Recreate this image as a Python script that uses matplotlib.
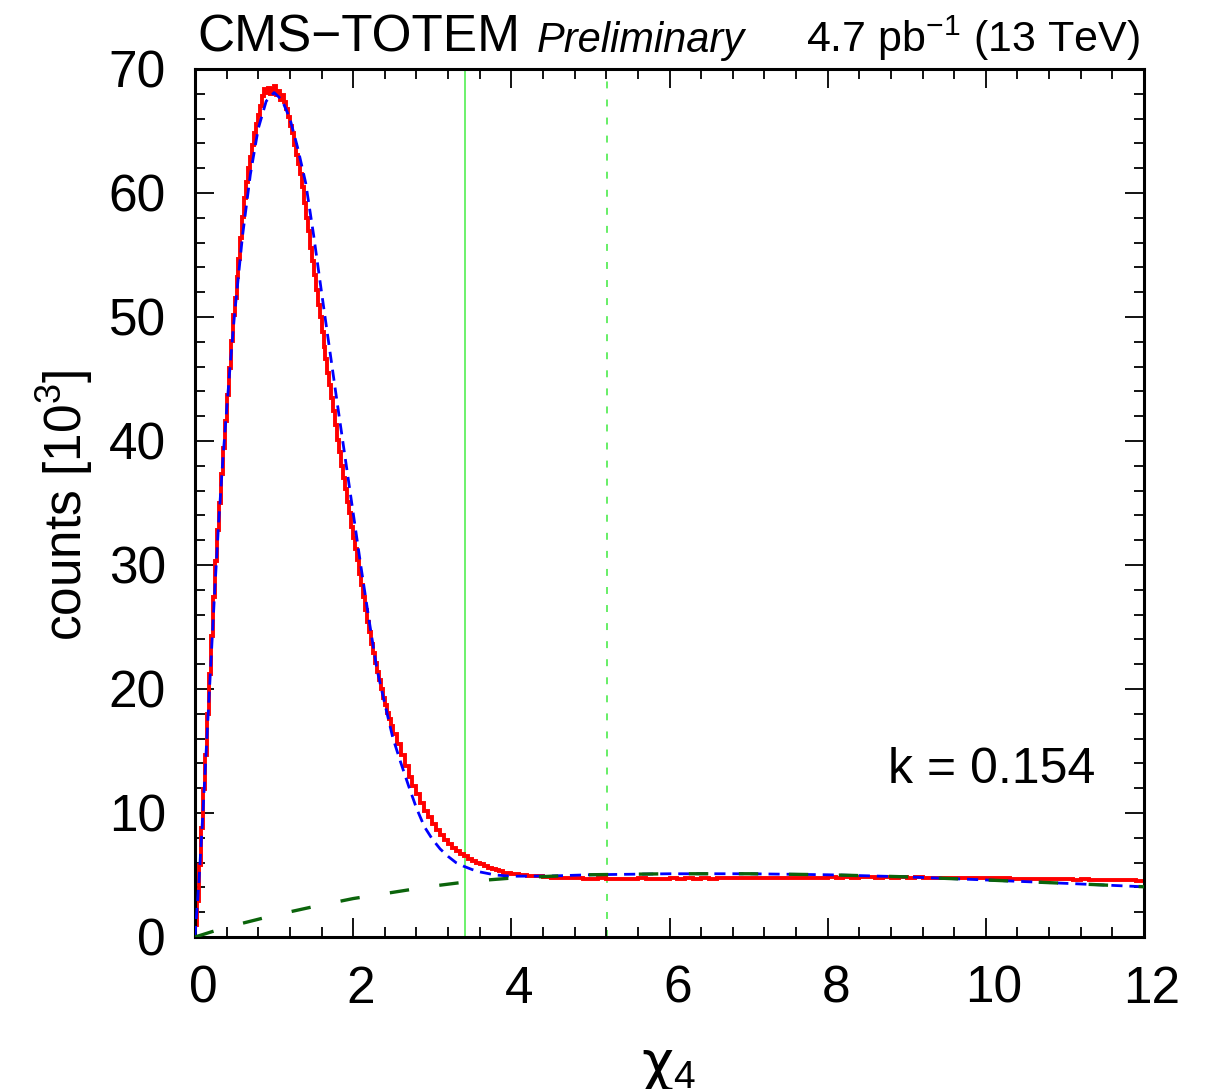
import numpy as np
import matplotlib
matplotlib.use('Agg')
from matplotlib import pyplot as plt
from matplotlib import transforms
from matplotlib.ticker import MultipleLocator

plt.rcParams['font.family'] = ['Liberation Sans', 'DejaVu Sans']
plt.rcParams['mathtext.fontset'] = 'custom'
plt.rcParams['mathtext.rm'] = 'Liberation Sans'
plt.rcParams['mathtext.it'] = 'Liberation Sans:italic'
plt.rcParams['mathtext.bf'] = 'Liberation Sans:bold'
plt.rcParams['lines.scale_dashes'] = False

# measured chi_4 distribution (counts / 1000)
# 0.025 wide bins from 0 to 2.5
hist_peak = [
    1.0, 2.9, 5.8, 8.8, 11.9, 14.7, 18.0, 21.2, 24.3, 27.4,
    30.3, 32.8, 35.0, 37.3, 39.4, 41.6, 43.7, 45.9, 48.1, 50.2,
    51.5, 53.2, 54.7, 56.4, 58.1, 59.6, 60.9, 62.0, 62.9, 63.9,
    64.8, 65.6, 66.3, 67.0, 67.8, 68.4, 68.1, 68.5, 68.0, 68.4,
    68.6, 67.9, 68.2, 67.5, 67.9, 67.3, 66.8, 66.1, 65.4, 64.8,
    63.9, 63.1, 62.3, 61.5, 60.5, 59.2, 58.0, 56.9, 55.6, 54.5,
    53.4, 52.2, 51.0, 50.0, 48.8, 47.6, 46.6, 45.5, 44.5, 43.5,
    42.4, 41.3, 40.1, 39.1, 38.0, 37.0, 36.1, 35.1, 34.2, 33.1,
    32.2, 31.3, 30.4, 29.3, 28.4, 27.4, 26.4, 25.4, 24.6, 23.6,
    22.9, 22.1, 21.4, 20.7, 20.0, 19.3, 18.7, 18.1, 17.6, 17.0,
]
# 0.05 wide bins from 2.5 to 4
hist_fall = [
    16.4, 15.6, 14.7, 13.8, 12.9, 12.2, 11.5, 10.8, 10.2, 9.7,
    9.1, 8.6, 8.2, 7.8, 7.5, 7.2, 6.9, 6.7, 6.5, 6.3,
    6.1, 6.0, 5.85, 5.7, 5.6, 5.5, 5.4, 5.3, 5.2, 5.15,
]
# 0.1 wide bins from 4 to 12
hist_tail = [
    5.05, 4.98, 4.92, 4.88, 4.83, 4.79, 4.76, 4.74, 4.72, 4.71,
    4.70, 4.72, 4.68, 4.71, 4.69, 4.70, 4.73, 4.68, 4.70, 4.71,
    4.72, 4.70, 4.73, 4.71, 4.74, 4.70, 4.72, 4.75, 4.72, 4.73,
    4.74, 4.76, 4.73, 4.75, 4.77, 4.74, 4.76, 4.78, 4.76, 4.79,
    4.80, 4.78, 4.81, 4.79, 4.82, 4.80, 4.78, 4.81, 4.79, 4.80,
    4.78, 4.80, 4.77, 4.79, 4.76, 4.78, 4.75, 4.77, 4.74, 4.75,
    4.73, 4.72, 4.74, 4.70, 4.71, 4.68, 4.70, 4.67, 4.66, 4.65,
    4.66, 4.63, 4.64, 4.61, 4.62, 4.59, 4.60, 4.57, 4.58, 4.55,
]

# full fit (signal + background)
fit_x = [0, 0.05, 0.1, 0.15, 0.2, 0.25, 0.3, 0.35, 0.4, 0.45, 0.5, 0.6, 0.7,
         0.8, 0.9, 1.0, 1.1, 1.2, 1.3, 1.4, 1.5, 1.6, 1.7, 1.8, 1.9, 2.0,
         2.1, 2.2, 2.3, 2.4, 2.5, 2.6, 2.7, 2.8, 2.9, 3.0, 3.1, 3.2, 3.3,
         3.4, 3.5, 3.6, 3.8, 4.0, 4.5, 5, 6, 7, 8, 9, 10, 11, 12]
fit_y = [0, 4.5, 10, 16, 22, 28, 33.5, 38.3, 42.5, 46.5, 50.2, 56.5, 61.5,
         65.2, 67.4, 68.1, 67.5, 66.0, 63.6, 60.8, 56.6, 52.0, 47.5, 43.0, 38.6, 34.2,
         29.8, 25.6, 21.6, 18.8, 16.1, 14.1, 12.2, 10.4, 8.9, 7.9, 7.1, 6.5, 6.0,
         5.7, 5.45, 5.25, 5.0, 4.9, 4.92, 5.02, 5.1, 5.1, 5.02, 4.85, 4.6, 4.33, 4.05]

# background component
bkg_x = [0, 0.25, 0.5, 1, 1.5, 2, 2.5, 3, 3.5, 4, 4.5, 5, 6, 7, 8, 9, 10, 11, 12]
bkg_y = [0, 0.5, 0.95, 1.75, 2.45, 3.1, 3.6, 4.1, 4.5, 4.75, 4.9, 5.02, 5.1, 5.1,
         5.02, 4.85, 4.6, 4.33, 4.05]

cut_solid = 3.41
cut_dashed = 5.21

edges = np.concatenate([np.linspace(0, 2.5, 101)[:-1],
                        np.linspace(2.5, 4, 31)[:-1],
                        np.linspace(4, 12, 81)])
counts = np.array(hist_peak + hist_fall + hist_tail)

fig = plt.figure(figsize=(12.07, 10.89), dpi=100)
ax = fig.add_axes([195 / 1207, 1 - 937 / 1089, (1144 - 195) / 1207, (937 - 69) / 1089])

ax.axvline(cut_solid, color='#44ee44', lw=1.1, zorder=1)
ax.axvline(cut_dashed, color='#66ee66', lw=1.4, dashes=(5, 8), zorder=1)

ax.stairs(counts, edges, baseline=None, color='#ff0000', lw=2.8, zorder=2)
ax.plot(fit_x, fit_y, color='#0000ff', lw=2.0, dashes=(8, 5), zorder=3)
ax.plot(bkg_x, bkg_y, color='#0b640b', lw=2.4, dashes=(14, 22), zorder=4)

ax.set_xlim(0, 12)
ax.set_ylim(0, 70)
ax.xaxis.set_major_locator(MultipleLocator(2))
ax.xaxis.set_minor_locator(MultipleLocator(0.4))
ax.yaxis.set_major_locator(MultipleLocator(10))
ax.yaxis.set_minor_locator(MultipleLocator(2))
ax.tick_params(which='both', direction='in', top=True, right=True, width=1.3, colors='black')
ax.tick_params(which='major', length=14)
ax.tick_params(which='minor', length=7)
ax.tick_params(axis='x', which='major', labelsize=37, pad=20)
ax.tick_params(axis='y', which='major', labelsize=37, pad=21)
for s in ax.spines.values():
    s.set_linewidth(2.2)

# ROOT style: x labels sit a bit to the right of the ticks
shift = transforms.ScaledTranslation(8 / 100, 0, fig.dpi_scale_trans)
for lab in ax.get_xticklabels():
    lab.set_transform(lab.get_transform() + shift)

fig.text(65 / 1207, 1 - 505 / 1089, 'counts [10$^{3}$]', rotation=90,
         ha='center', va='center', fontsize=37)
fig.text(669 / 1207, 1 - 1080 / 1089, 'χ$_{4}$', ha='center', va='baseline',
         fontsize=40, family=['DejaVu Sans'])

fig.text(197 / 1207, 1 - 52 / 1089, 'CMS\u2212TOTEM', ha='left', va='baseline', fontsize=37)
fig.text(537 / 1207, 1 - 52 / 1089, 'Preliminary', style='italic', ha='left',
         va='baseline', fontsize=30)
fig.text(1140 / 1207, 1 - 52 / 1089, '4.7 pb$^{\u22121}$ (13 TeV)', ha='right',
         va='baseline', fontsize=31)
fig.text(1095 / 1207, 1 - 783 / 1089, 'k = 0.154', ha='right', va='baseline', fontsize=36)

plt.savefig('out.png', dpi=100)
